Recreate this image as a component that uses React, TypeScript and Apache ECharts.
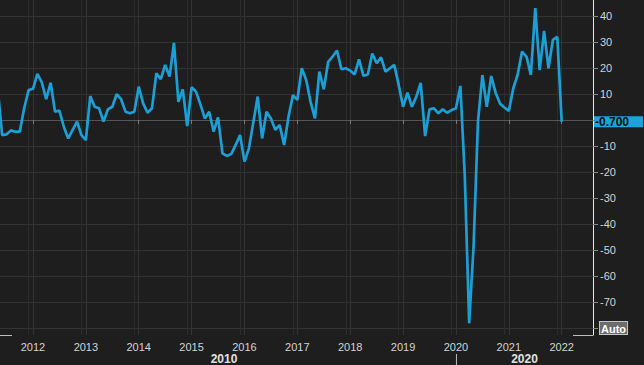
import React, { useEffect, useRef } from "react";
import * as echarts from "echarts";

// Monthly index values, starting at firstMonth
const firstMonth = "2011-05";
const indexValues = [
  // 2011 May-Dec
  12.0, -5.8, -5.5, -4.0, -4.5, -4.5, 4.5, 11.5,
  // 2012
  12.0, 17.7, 14.5, 8.0, 14.3, 3.2, 3.6, -2.6, -7.1, -3.8, -0.6, -5.8,
  // 2013
  -7.7, 9.2, 5.1, 4.5, -0.6, 4.1, 5.1, 9.9, 8.0, 3.2, 2.6, 3.2,
  // 2014
  12.8, 6.4, 2.8, 4.5, 18.0, 15.7, 21.2, 16.7, 29.7, 7.0, 11.8, -2.3,
  // 2015
  12.6, 10.9, 6.0, 0.6, 3.2, -4.5, 1.0, -12.8, -13.8, -13.1, -9.6, -5.8,
  // 2016
  -16.0, -11.0, -1.0, 9.0, -7.1, 3.2, 0.6, -3.8, -1.9, -9.6, 1.3, 9.6,
  // 2017
  7.7, 19.9, 15.4, 7.0, 0.6, 18.6, 11.8, 22.4, 24.4, 26.7, 19.5, 19.9,
  // 2018
  19.0, 17.5, 23.3, 17.0, 17.5, 25.6, 21.8, 24.1, 18.6, 19.9, 21.2, 13.5,
  // 2019
  5.1, 10.5, 5.1, 9.0, 14.3, -6.2, 4.1, 4.5, 2.6, 4.1, 2.8, 3.8,
  // 2020
  4.5, 13.1, -21.5, -78.2, -48.5, -0.5, 17.3, 5.1, 16.9, 10.5, 6.3, 4.8,
  // 2021
  3.5, 12.1, 17.4, 26.3, 24.4, 17.3, 43.0, 19.2, 34.3, 19.9, 30.8, 32.0,
  // 2022
  -0.7,
];

// Axis ranges (fractional years / index units)
const xMin = 2011.376;
const xMax = 2022.592;
const yMin = -82.69;
const yMax = 46.15;

// Second-level (decade) tick labels
const decadeStarts = [2010, 2020];
const decadeLabels = ["2010", "2020"];
const autoLabel = "Auto";

const FONT = "'Liberation Sans', Arial, sans-serif";
const LINE_COLOR = "#1c9fd4";
const LABEL_COLOR = "#d4d4d4";
const GRID_COLOR = "#333333";

export default function App() {
  const ref = useRef<HTMLDivElement>(null);

  useEffect(() => {
    document.body.style.margin = "0";
    const el = ref.current as HTMLDivElement;
    const chart = echarts.init(el, null, { renderer: "svg" });
    const [fy, fm] = firstMonth.split("-").map(Number);
    const points = indexValues.map((v, i) => [fy + (fm - 1 + i) / 12, v]);
    const last = indexValues[indexValues.length - 1];

    chart.setOption({
      animation: false,
      backgroundColor: "#1e1e1e",
      textStyle: { fontFamily: FONT },
      grid: { left: 0, right: 51, top: 0, bottom: 30, containLabel: false },
      xAxis: [
        {
          type: "value",
          min: xMin,
          max: xMax,
          minInterval: 1,
          maxInterval: 1,
          axisLine: { show: true, lineStyle: { color: "#555555", width: 1 } },
          axisTick: { show: true, length: 4, lineStyle: { color: "#7a7a7a" } },
          axisLabel: {
            color: LABEL_COLOR,
            fontSize: 11,
            fontFamily: FONT,
            margin: 6,
            showMinLabel: false,
            showMaxLabel: false,
            formatter: (v: number) =>
              Math.abs(v - Math.round(v)) < 1e-6 ? String(Math.round(v)) : "",
          },
          splitLine: {
            show: true,
            showMinLine: false,
            showMaxLine: false,
            lineStyle: { color: GRID_COLOR, width: 1 },
          },
        },
        {
          type: "value",
          min: xMin + 1 / 12,
          max: xMax + 1 / 12,
          minInterval: 1,
          maxInterval: 1,
          position: "bottom",
          axisLine: { show: false },
          axisTick: { show: false },
          axisLabel: { show: false },
          splitLine: {
            show: true,
            showMinLine: false,
            showMaxLine: false,
            lineStyle: { color: "#2c2c2c", width: 1 },
          },
        },
      ],
      yAxis: {
        type: "value",
        position: "right",
        min: yMin,
        max: yMax,
        minInterval: 10,
        maxInterval: 10,
        axisLine: { show: true, lineStyle: { color: "#e8e8e8", width: 1 } },
        axisTick: { show: true, length: 5, lineStyle: { color: "#8a8a8a" } },
        axisLabel: {
          color: LABEL_COLOR,
          fontSize: 11,
          fontFamily: FONT,
          margin: 7,
          showMinLabel: false,
          showMaxLabel: false,
          formatter: (v: number) => {
            const r = Math.round(v);
            if (Math.abs(v - r) > 1e-6 || r % 10 !== 0) return "";
            if (r === 0) return "";
            if (r === -80) return "{auto|" + autoLabel + "}";
            return String(r);
          },
          rich: {
            auto: {
              color: "#ffffff",
              fontWeight: "bold",
              fontSize: 11,
              fontFamily: FONT,
              backgroundColor: "#6c6c6c",
              borderColor: "#c4c4c4",
              borderWidth: 1,
              padding: [1, 1, 0, 1],
            },
          },
        },
        splitLine: {
          show: true,
          showMinLine: false,
          showMaxLine: false,
          lineStyle: { color: GRID_COLOR, width: 1 },
        },
      },
      series: [
        {
          type: "line",
          data: points,
          showSymbol: false,
          symbol: "none",
          clip: true,
          lineStyle: { color: LINE_COLOR, width: 2.7 },
        },
      ],
    });

    const bottomY = chart.convertToPixel({ yAxisIndex: 0 }, yMin) as number;
    const leftX = chart.convertToPixel({ xAxisIndex: 0 }, xMin) as number;
    const rightX = chart.convertToPixel({ xAxisIndex: 0 }, xMax) as number;
    const lastY = chart.convertToPixel({ yAxisIndex: 0 }, last) as number;
    const graphics: any[] = [
      {
        type: "line",
        shape: { x1: leftX, y1: bottomY + 0.5, x2: leftX + 12, y2: bottomY + 0.5 },
        style: { stroke: "#bdbdbd", lineWidth: 1 },
        z: 10,
      },
      {
        type: "line",
        shape: { x1: rightX - 20, y1: bottomY + 0.5, x2: rightX, y2: bottomY + 0.5 },
        style: { stroke: "#bdbdbd", lineWidth: 1 },
        z: 10,
      },
      {
        type: "rect",
        shape: { x: rightX + 1, y: lastY - 5.5, width: 644 - rightX - 2, height: 11 },
        style: { fill: "#1ea3d8" },
        z: 20,
      },
      {
        type: "text",
        x: rightX + 2,
        y: lastY + 0.5,
        style: {
          text: last.toFixed(3),
          fill: "#06121c",
          font: "bold 12px " + FONT,
          textAlign: "left",
          textVerticalAlign: "middle",
        },
        z: 21,
      },
    ];
    decadeStarts.forEach((d, i) => {
      const segStart = Math.max(d, xMin);
      const segEnd = Math.min(d + 10, xMax);
      if (segEnd <= segStart) return;
      const x0 = chart.convertToPixel({ xAxisIndex: 0 }, segStart) as number;
      const x1 = chart.convertToPixel({ xAxisIndex: 0 }, segEnd) as number;
      if (d >= xMin) {
        graphics.push({
          type: "line",
          shape: { x1: x0 + 0.5, y1: bottomY + 19, x2: x0 + 0.5, y2: 365 },
          style: { stroke: "#bbbbbb", lineWidth: 1 },
        });
      }
      graphics.push({
        type: "text",
        x: (x0 + x1) / 2 - (d < 2020 ? 4 : 0),
        y: bottomY + 23.5,
        style: {
          text: decadeLabels[i],
          fill: "#e2e2e2",
          font: "bold 12px " + FONT,
          lineHeight: 12,
          textAlign: "center",
          textVerticalAlign: "middle",
        },
      });
    });
    chart.setOption({ graphic: graphics });

    return () => {
      chart.dispose();
    };
  }, []);

  return (
    <div
      ref={ref}
      style={{ width: 644, height: 365, position: "absolute", left: 0, top: 0 }}
    />
  );
}
